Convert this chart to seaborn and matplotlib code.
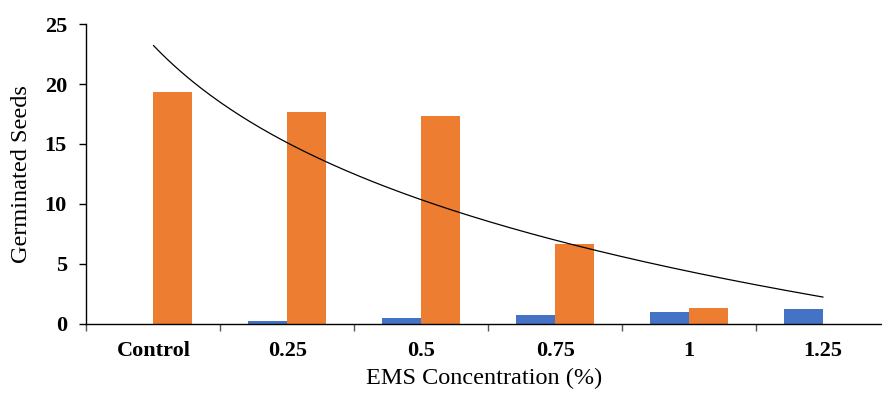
import numpy as np
import pandas as pd
import seaborn as sns
import matplotlib.pyplot as plt

# data
categories = ['Control', '0.25', '0.5', '0.75', '1', '1.25']
ems_percent = [0, 0.25, 0.5, 0.75, 1, 1.25]
germinated = [19.35, 17.65, 17.3, 6.65, 1.3, 0]

blue = '#4472C4'
orange = '#ED7D31'

sns.set_style('white')
plt.rcParams['font.family'] = ['Liberation Serif', 'DejaVu Serif']
plt.rcParams['text.color'] = 'black'
plt.rcParams['axes.labelcolor'] = 'black'
plt.rcParams['xtick.color'] = 'black'
plt.rcParams['ytick.color'] = 'black'

df = pd.DataFrame({
    'conc': categories * 2,
    'value': ems_percent + germinated,
    'series': ['EMS (%)'] * 6 + ['Germinated Seeds'] * 6,
})

fig = plt.figure(figsize=(8.82, 3.94), dpi=100)
ax = fig.add_axes([0.098, 0.178, 0.902, 0.761])

sns.barplot(data=df, x='conc', y='value', hue='series', order=categories,
            palette=[blue, orange], width=0.58, linewidth=0, saturation=1,
            legend=False, ax=ax)

# logarithmic trendline fitted on the germinated seeds series
idx = np.arange(1, len(categories) + 1)
b, a = np.polyfit(np.log(idx), germinated, 1)
xs = np.linspace(1, len(categories), 200)
ax.plot(xs - 1, a + b * np.log(xs), color='black', lw=0.9)

ax.set_xlim(-0.5, 5.44)
ax.set_ylim(0, 25)
ax.set_yticks([0, 5, 10, 15, 20, 25])

for s in ['top', 'right']:
    ax.spines[s].set_visible(False)
for s in ['left', 'bottom']:
    ax.spines[s].set_color('black')
    ax.spines[s].set_linewidth(1.0)

ax.set_xticks(np.arange(-0.5, 5.5, 1), minor=True)
ax.tick_params(axis='x', which='major', length=0, pad=12, labelsize=16, labelcolor='black')
ax.tick_params(axis='x', which='minor', length=5, width=1, color='#555555', direction='out', bottom=True)
ax.tick_params(axis='y', which='major', length=5, width=1, color='black', direction='out', left=True, pad=9, labelsize=16, labelcolor='black')
for t in ax.get_xticklabels() + ax.get_yticklabels():
    t.set_fontweight('bold')

ax.set_xlabel('EMS Concentration (%)', fontsize=17.5, labelpad=5, color='black')
ax.set_ylabel('Germinated Seeds', fontsize=17.5, labelpad=9, color='black')

fig.savefig('out.png', dpi=100)
